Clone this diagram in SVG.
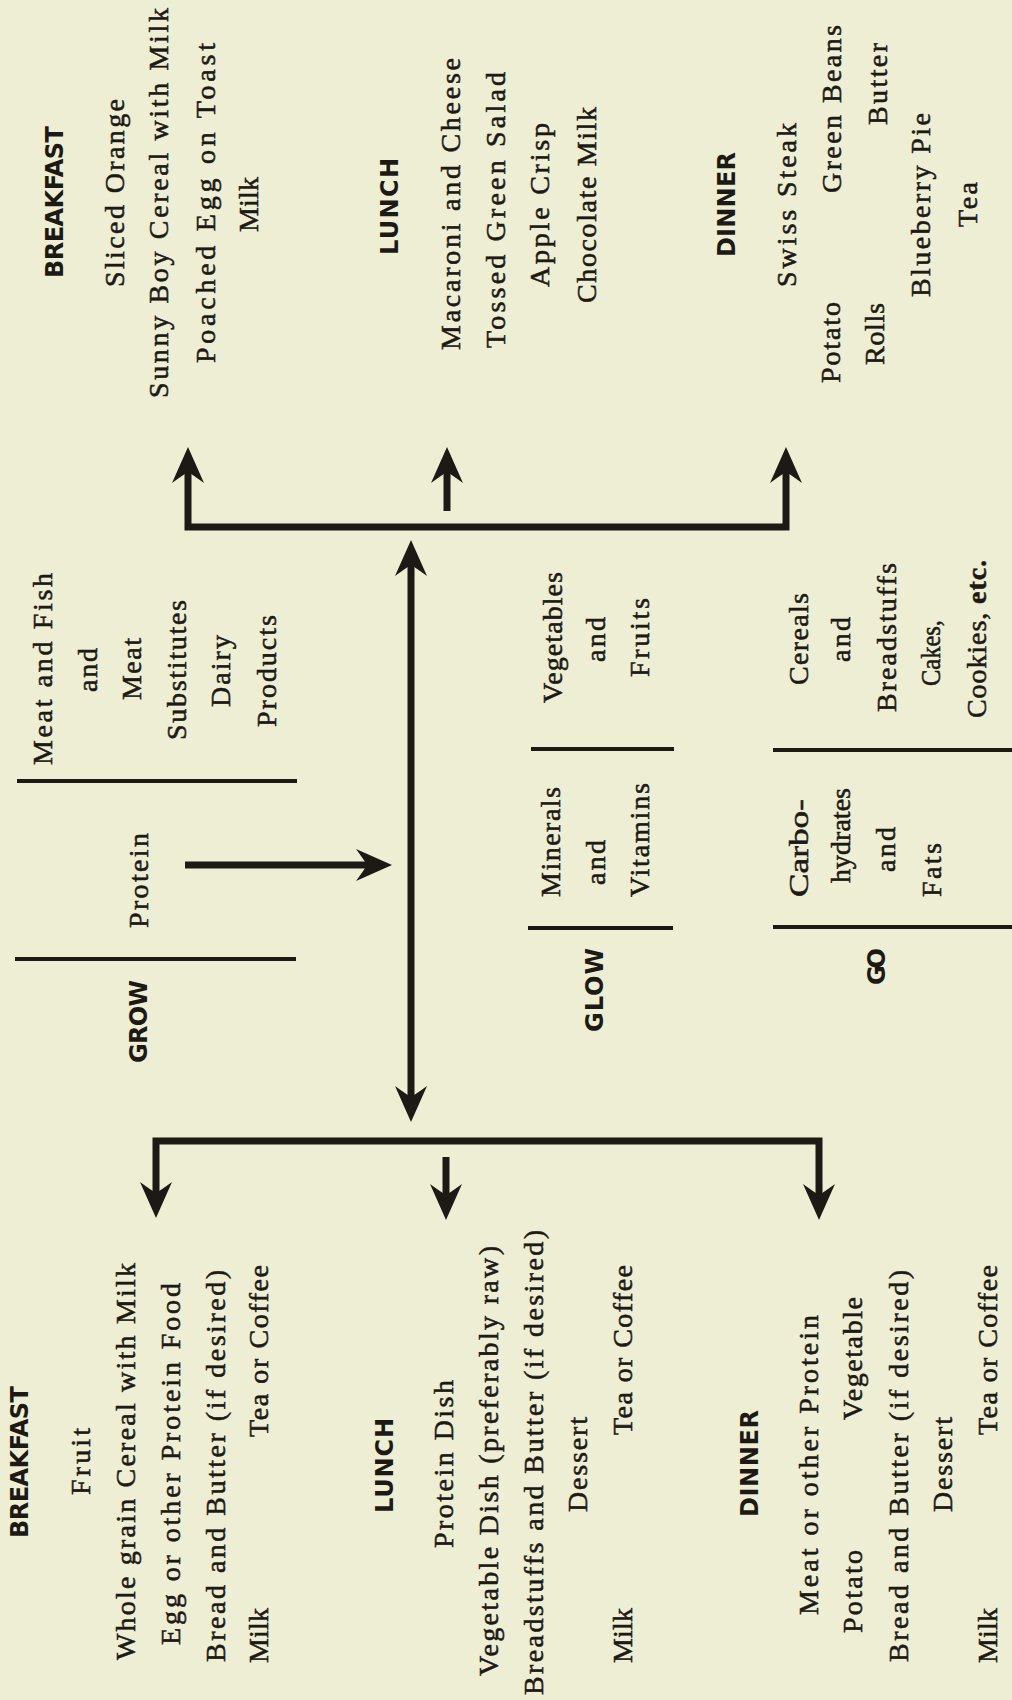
<svg xmlns="http://www.w3.org/2000/svg" width="1012" height="1700" viewBox="0 0 1012 1700">
<style>
  .s { font-family: "Liberation Serif", "Times New Roman", serif; font-size: 28px; fill: #1d1a16; stroke: #1d1a16; stroke-width: 0.55px; }
  .h { font-family: "DejaVu Sans", "Liberation Sans", sans-serif; font-weight: bold; font-size: 24px; fill: #1d1a16; }
  .b { font-weight: bold; }
  .ln { stroke: #1d1a16; stroke-width: 7; fill: none; stroke-linejoin: miter; stroke-linecap: butt; }
  .rule { stroke: #1d1a16; stroke-width: 4; fill: none; }
</style>
<defs>
  <marker id="ah" markerUnits="userSpaceOnUse" viewBox="0 -17 36 34" refX="11" refY="0" markerWidth="36" markerHeight="34" orient="auto-start-reverse">
    <path d="M36,0 L0,-16 Q8,-5 11,0 Q8,5 0,16 Z" fill="#1d1a16"/>
  </marker>
</defs>
<rect width="1012" height="1700" fill="#eeeed4"/>

<g id="connectors">
  <path class="ln" d="M188,472 V527 H786 V472" marker-start="url(#ah)" marker-end="url(#ah)"/>
  <line class="ln" x1="447" y1="511" x2="447" y2="472" marker-end="url(#ah)"/>
  <line class="ln" x1="411" y1="565" x2="411" y2="1097" marker-start="url(#ah)" marker-end="url(#ah)"/>
  <line class="ln" x1="185" y1="865" x2="367" y2="865" marker-end="url(#ah)"/>
  <path class="ln" d="M156,1193 V1141 H819 V1195" marker-start="url(#ah)" marker-end="url(#ah)"/>
  <line class="ln" x1="446" y1="1157" x2="446" y2="1195" marker-end="url(#ah)"/>
</g>

<g id="menu-breakfast">
  <text class="h" transform="translate(63 278) rotate(-90)" textLength="152" lengthAdjust="spacing">BREAKFAST</text>
  <text class="s" transform="translate(124 287) rotate(-90)" textLength="188" lengthAdjust="spacing">Sliced Orange</text>
  <text class="s" transform="translate(168 398) rotate(-90)" textLength="390" lengthAdjust="spacing">Sunny Boy Cereal with Milk</text>
  <text class="s" transform="translate(215 363) rotate(-90)" textLength="320" lengthAdjust="spacing">Poached Egg on Toast</text>
  <text class="s" transform="translate(258 232) rotate(-90)" textLength="55" lengthAdjust="spacing">Milk</text>
</g>

<g id="menu-lunch">
  <text class="h" transform="translate(398 255) rotate(-90)" textLength="97" lengthAdjust="spacing">LUNCH</text>
  <text class="s" transform="translate(460 350) rotate(-90)" textLength="292" lengthAdjust="spacing">Macaroni and Cheese</text>
  <text class="s" transform="translate(505 348) rotate(-90)" textLength="276" lengthAdjust="spacing">Tossed Green Salad</text>
  <text class="s" transform="translate(549 287) rotate(-90)" textLength="164" lengthAdjust="spacing">Apple Crisp</text>
  <text class="s" transform="translate(596 303) rotate(-90)" textLength="196" lengthAdjust="spacing">Chocolate Milk</text>
</g>

<g id="menu-dinner">
  <text class="h" transform="translate(735 257) rotate(-90)" textLength="105" lengthAdjust="spacing">DINNER</text>
  <text class="s" transform="translate(796 287) rotate(-90)" textLength="164" lengthAdjust="spacing">Swiss Steak</text>
  <text class="s" transform="translate(840 383) rotate(-90)" textLength="81" lengthAdjust="spacing">Potato</text>
  <text class="s" transform="translate(841 193) rotate(-90)" textLength="168" lengthAdjust="spacing">Green Beans</text>
  <text class="s" transform="translate(884 365) rotate(-90)" textLength="62" lengthAdjust="spacing">Rolls</text>
  <text class="s" transform="translate(887 125) rotate(-90)" textLength="82" lengthAdjust="spacing">Butter</text>
  <text class="s" transform="translate(930 297) rotate(-90)" textLength="184" lengthAdjust="spacing">Blueberry Pie</text>
  <text class="s" transform="translate(977 227) rotate(-90)" textLength="45" lengthAdjust="spacing">Tea</text>
</g>

<g id="grow">
  <line class="rule" x1="17" y1="781" x2="297" y2="781"/>
  <line class="rule" x1="15" y1="959" x2="296" y2="959"/>
  <text class="s" transform="translate(52 765) rotate(-90)" textLength="192" lengthAdjust="spacing">Meat and Fish</text>
  <text class="s" transform="translate(97 692) rotate(-90)" textLength="44" lengthAdjust="spacing">and</text>
  <text class="s" transform="translate(141 700) rotate(-90)" textLength="62" lengthAdjust="spacing">Meat</text>
  <text class="s" transform="translate(186 740) rotate(-90)" textLength="140" lengthAdjust="spacing">Substitutes</text>
  <text class="s" transform="translate(230 707) rotate(-90)" textLength="72" lengthAdjust="spacing">Dairy</text>
  <text class="s" transform="translate(276 727) rotate(-90)" textLength="112" lengthAdjust="spacing">Products</text>
  <text class="s" transform="translate(148 928) rotate(-90)" textLength="95" lengthAdjust="spacing">Protein</text>
  <text class="h" transform="translate(147 1063) rotate(-90)" textLength="83" lengthAdjust="spacing">GROW</text>
</g>

<g id="glow">
  <line class="rule" x1="531" y1="749" x2="674" y2="749"/>
  <line class="rule" x1="528" y1="928" x2="673" y2="928"/>
  <text class="s" transform="translate(562 703) rotate(-90)" textLength="131" lengthAdjust="spacing">Vegetables</text>
  <text class="s" transform="translate(605 662) rotate(-90)" textLength="45" lengthAdjust="spacing">and</text>
  <text class="s" transform="translate(649 677) rotate(-90)" textLength="79" lengthAdjust="spacing">Fruits</text>
  <text class="s" transform="translate(560 897) rotate(-90)" textLength="110" lengthAdjust="spacing">Minerals</text>
  <text class="s" transform="translate(605 885) rotate(-90)" textLength="45" lengthAdjust="spacing">and</text>
  <text class="s" transform="translate(649 897) rotate(-90)" textLength="114" lengthAdjust="spacing">Vitamins</text>
  <text class="h" transform="translate(603 1032) rotate(-90)" textLength="84" lengthAdjust="spacing">GLOW</text>
</g>

<g id="go">
  <line class="rule" x1="773" y1="750" x2="1012" y2="750"/>
  <line class="rule" x1="773" y1="927" x2="1012" y2="927"/>
  <text class="s" transform="translate(808 685) rotate(-90)" textLength="92" lengthAdjust="spacing">Cereals</text>
  <text class="s" transform="translate(850 662) rotate(-90)" textLength="45" lengthAdjust="spacing">and</text>
  <text class="s" transform="translate(896 712) rotate(-90)" textLength="149" lengthAdjust="spacing">Breadstuffs</text>
  <text class="s" transform="translate(940 686) rotate(-90)" textLength="66" lengthAdjust="spacingAndGlyphs">Cakes,</text>
  <text class="s" transform="translate(986 718) rotate(-90)" textLength="158" lengthAdjust="spacing">Cookies, <tspan class="b">etc.</tspan></text>
  <text class="s" transform="translate(808 897) rotate(-90)" textLength="98" lengthAdjust="spacingAndGlyphs">Carbo-</text>
  <text class="s" transform="translate(850 883) rotate(-90)" textLength="95" lengthAdjust="spacing">hydrates</text>
  <text class="s" transform="translate(895 872) rotate(-90)" textLength="45" lengthAdjust="spacing">and</text>
  <text class="s" transform="translate(941 897) rotate(-90)" textLength="54" lengthAdjust="spacing">Fats</text>
  <text class="h" transform="translate(885 985) rotate(-90)" textLength="37" lengthAdjust="spacing">GO</text>
</g>

<g id="plan-breakfast">
  <text class="h" transform="translate(28 1538) rotate(-90)" textLength="152" lengthAdjust="spacing">BREAKFAST</text>
  <text class="s" transform="translate(90 1495) rotate(-90)" textLength="67" lengthAdjust="spacing">Fruit</text>
  <text class="s" transform="translate(135 1660) rotate(-90)" textLength="397" lengthAdjust="spacing">Whole grain Cereal with Milk</text>
  <text class="s" transform="translate(180 1645) rotate(-90)" textLength="362" lengthAdjust="spacing">Egg or other Protein Food</text>
  <text class="s" transform="translate(225 1662) rotate(-90)" textLength="392" lengthAdjust="spacing">Bread and Butter (if desired)</text>
  <text class="s" transform="translate(268 1663) rotate(-90)" textLength="55" lengthAdjust="spacing">Milk</text>
  <text class="s" transform="translate(268 1437) rotate(-90)" textLength="172" lengthAdjust="spacing">Tea or Coffee</text>
</g>

<g id="plan-lunch">
  <text class="h" transform="translate(393 1513) rotate(-90)" textLength="95" lengthAdjust="spacing">LUNCH</text>
  <text class="s" transform="translate(453 1548) rotate(-90)" textLength="168" lengthAdjust="spacing">Protein Dish</text>
  <text class="s" transform="translate(498 1676) rotate(-90)" textLength="430" lengthAdjust="spacing">Vegetable Dish (preferably raw)</text>
  <text class="s" transform="translate(543 1695) rotate(-90)" textLength="465" lengthAdjust="spacing">Breadstuffs and Butter (if desired)</text>
  <text class="s" transform="translate(587 1512) rotate(-90)" textLength="95" lengthAdjust="spacing">Dessert</text>
  <text class="s" transform="translate(632 1663) rotate(-90)" textLength="55" lengthAdjust="spacing">Milk</text>
  <text class="s" transform="translate(632 1435) rotate(-90)" textLength="170" lengthAdjust="spacing">Tea or Coffee</text>
</g>

<g id="plan-dinner">
  <text class="h" transform="translate(758 1517) rotate(-90)" textLength="107" lengthAdjust="spacing">DINNER</text>
  <text class="s" transform="translate(818 1615) rotate(-90)" textLength="300" lengthAdjust="spacing">Meat or other Protein</text>
  <text class="s" transform="translate(862 1633) rotate(-90)" textLength="83" lengthAdjust="spacing">Potato</text>
  <text class="s" transform="translate(862 1420) rotate(-90)" textLength="123" lengthAdjust="spacing">Vegetable</text>
  <text class="s" transform="translate(908 1662) rotate(-90)" textLength="392" lengthAdjust="spacing">Bread and Butter (if desired)</text>
  <text class="s" transform="translate(952 1512) rotate(-90)" textLength="95" lengthAdjust="spacing">Dessert</text>
  <text class="s" transform="translate(997 1663) rotate(-90)" textLength="55" lengthAdjust="spacing">Milk</text>
  <text class="s" transform="translate(997 1435) rotate(-90)" textLength="170" lengthAdjust="spacing">Tea or Coffee</text>
</g>
</svg>
